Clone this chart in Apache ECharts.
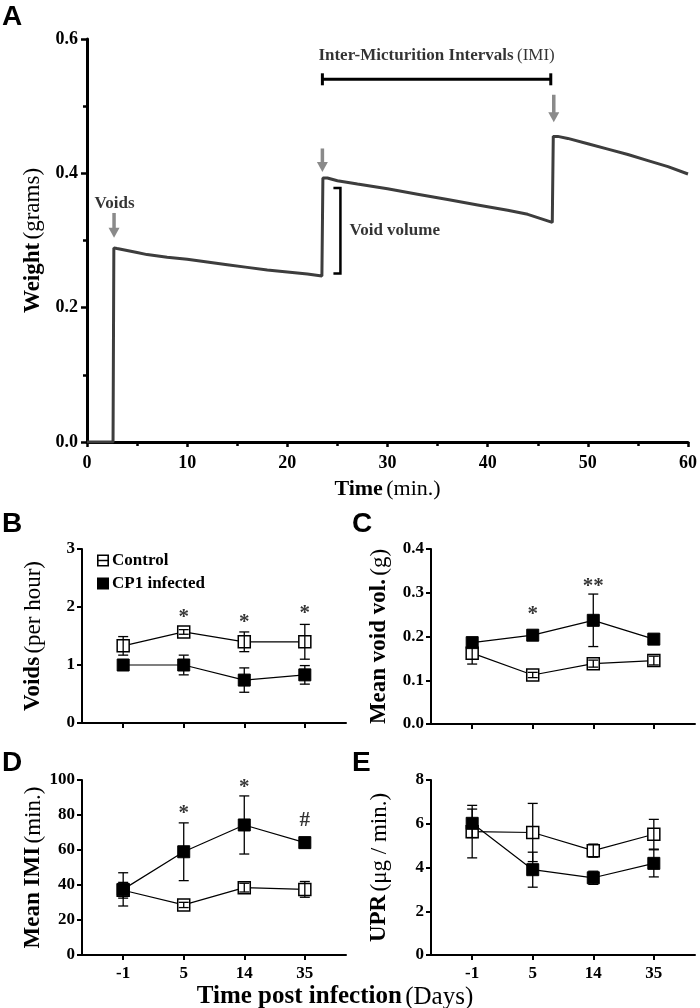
<!DOCTYPE html>
<html><head><meta charset="utf-8">
<script src="https://cdn.jsdelivr.net/npm/echarts@6/dist/echarts.min.js"></script>
<style>html,body{margin:0;padding:0;background:#fff}#c{width:700px;height:1008px}</style>
</head><body><div id="c"></div>
<script>
// ---------- Panel A data ----------
const traceTime = [0, 1.0, 2.6, 2.68, 3.0, 4, 5, 6, 8, 10, 12, 14, 16, 18, 20, 22, 23.45, 23.55, 24, 25, 27, 30, 33, 36, 39, 42, 44, 46.45, 46.55, 47, 48, 50, 52, 54, 56, 58, 60];
const traceWeight = [0, 0, 0, 0.289, 0.288, 0.285, 0.282, 0.279, 0.275, 0.272, 0.268, 0.264, 0.260, 0.256, 0.253, 0.250, 0.247, 0.393, 0.393, 0.389, 0.384, 0.377, 0.369, 0.361, 0.353, 0.345, 0.339, 0.327, 0.455, 0.455, 0.452, 0.444, 0.436, 0.428, 0.419, 0.410, 0.399];
// annotation anchors in data units: [time, weightFrom, weightTo]
const voidArrows = [[2.7, 0.341, 0.304], [23.5, 0.437, 0.402], [46.6, 0.517, 0.476]];
const imiBracket = [[23.5, 46.3, 0.540]];
const voidVolumeBracket = [[25.3, 0.378, 0.251]];

// ---------- Panels B–E data ----------
const days = ['-1', '5', '14', '35'];
const voidsControl = [1.33, 1.57, 1.40, 1.40];
const voidsControlErr = [0.16, 0.04, 0.17, 0.30];
const voidsCP1 = [1.00, 1.00, 0.74, 0.83];
const voidsCP1Err = [0.05, 0.17, 0.21, 0.16];
const voidsSig = [[1, 1.9, '*'], [2, 1.82, '*'], [3, 1.98, '*']];

const volControl = [0.162, 0.112, 0.138, 0.145];
const volControlErr = [0.025, 0.006, 0.008, 0.010];
const volCP1 = [0.186, 0.203, 0.237, 0.194];
const volCP1Err = [0.008, 0.008, 0.060, 0.006];
const volSig = [[1, 0.262, '*'], [2, 0.325, '**']];

const imiControl = [37.0, 28.6, 38.5, 37.5];
const imiControlErr = [4.5, 1.5, 2.5, 4.5];
const imiCP1 = [37.5, 59.0, 74.3, 64.2];
const imiCP1Err = [9.5, 16.5, 16.6, 3.0];
const imiSig = [[1, 83.4, '*'], [2, 98.5, '*'], [3, 77, '#']];

const uprControl = [5.64, 5.60, 4.77, 5.52];
const uprControlErr = [1.20, 1.33, 0.30, 0.68];
const uprCP1 = [6.02, 3.90, 3.53, 4.19];
const uprCP1Err = [0.65, 0.80, 0.30, 0.62];

// ---------- styling ----------
const SERIF = 'Liberation Serif';
const SANS = 'Liberation Sans';
const chart = echarts.init(document.getElementById('c'), null, {renderer: 'canvas'});

function axisNameStyle(size) {
  return {
    rich: {
      b: {fontFamily: SERIF, fontWeight: 'bold', fontSize: size, color: '#000'},
      n: {fontFamily: SERIF, fontWeight: 'normal', fontSize: size, color: '#000'}
    }
  };
}

function errRender(params, api) {
  const x = api.value(0), m = api.value(1), e = api.value(2);
  const top = api.coord([x, m + e]), bot = api.coord([x, m - e]);
  const hw = 5;
  const style = {stroke: '#000', lineWidth: 1.3, fill: null};
  return {type: 'group', children: [
    {type: 'line', shape: {x1: top[0], y1: top[1], x2: bot[0], y2: bot[1]}, style},
    {type: 'line', shape: {x1: top[0] - hw, y1: top[1], x2: top[0] + hw, y2: top[1]}, style},
    {type: 'line', shape: {x1: bot[0] - hw, y1: bot[1], x2: bot[0] + hw, y2: bot[1]}, style}
  ]};
}

const grids = [
  {left: 87, top: 39, width: 605, height: 403},
  {left: 82, top: 549, width: 264, height: 174},
  {left: 431, top: 549, width: 264, height: 175},
  {left: 82, top: 780, width: 264, height: 175},
  {left: 431, top: 780, width: 264, height: 175}
];

const xAxes = [
  {
    gridIndex: 0, type: 'value', min: 0, max: 60, interval: 10,
    axisLine: {onZero: false, lineStyle: {color: '#000', width: 3}},
    axisTick: {show: true, length: 5, lineStyle: {color: '#000', width: 2.5}},
    minorTick: {show: true, splitNumber: 2, length: 4, lineStyle: {color: '#000', width: 2.5}},
    splitLine: {show: false},
    axisLabel: {fontFamily: SERIF, fontWeight: 'bold', fontSize: 18, color: '#000', margin: 12},
    name: '{b|Time} {n|(min.)}', nameLocation: 'middle', nameGap: 36,
    nameTextStyle: axisNameStyle(22)
  }
];
const yAxes = [
  {
    gridIndex: 0, type: 'value', min: 0, max: 0.6, interval: 0.2,
    axisLine: {show: true, onZero: false, lineStyle: {color: '#000', width: 3}},
    axisTick: {show: true, length: 6, lineStyle: {color: '#000', width: 2.5}},
    minorTick: {show: true, splitNumber: 2, length: 4, lineStyle: {color: '#000', width: 2.5}},
    splitLine: {show: false},
    axisLabel: {fontFamily: SERIF, fontWeight: 'bold', fontSize: 18, color: '#000', margin: 9,
      formatter: v => v.toFixed(1)},
    name: '{b|Weight} {n|(grams)}', nameLocation: 'middle', nameGap: 42, nameRotate: 90,
    nameTextStyle: axisNameStyle(23)
  }
];

const panelY = [
  {min: 0, max: 3, interval: 1, fmt: v => String(v), name: '{b|Voids} {n|(per hour)}'},
  {min: 0, max: 0.4, interval: 0.1, fmt: v => v.toFixed(1), name: '{b|Mean void vol.} {n|(g)}'},
  {min: 0, max: 100, interval: 20, fmt: v => String(v), name: '{b|Mean IMI} {n|(min.)}'},
  {min: 0, max: 8, interval: 2, fmt: v => String(v), name: '{b|UPR} {n|(μg / min.)}'}
];
panelY.forEach((p, i) => {
  const g = i + 1;
  xAxes.push({
    gridIndex: g, type: 'value', min: -0.68, max: 3.68,
    axisLine: {onZero: false, lineStyle: {color: '#000', width: 2}},
    axisTick: {show: true, length: 5, customValues: [0, 1, 2, 3], lineStyle: {color: '#000', width: 2}},
    splitLine: {show: false},
    axisLabel: {show: g >= 3, customValues: [0, 1, 2, 3], formatter: v => days[Math.round(v)],
      fontFamily: SERIF, fontWeight: 'bold', fontSize: 17, color: '#000', margin: 10}
  });
  yAxes.push({
    gridIndex: g, type: 'value', min: p.min, max: p.max, interval: p.interval,
    axisLine: {show: true, onZero: false, lineStyle: {color: '#000', width: 2}},
    axisTick: {show: true, length: 5, lineStyle: {color: '#000', width: 2}},
    splitLine: {show: false},
    axisLabel: {fontFamily: SERIF, fontWeight: 'bold', fontSize: 17, color: '#000', margin: 7, formatter: p.fmt},
    name: p.name, nameLocation: 'middle', nameGap: (g === 2 || g === 4) ? 40 : 37, nameRotate: 90,
    nameTextStyle: axisNameStyle(23)
  });
});

const series = [];
// Panel A trace
series.push({
  type: 'line', xAxisIndex: 0, yAxisIndex: 0, showSymbol: false, silent: true,
  data: traceTime.map((t, i) => [t, traceWeight[i]]),
  lineStyle: {color: '#3d3d3d', width: 3}, z: 3
});
// arrows
series.push({
  type: 'custom', xAxisIndex: 0, yAxisIndex: 0, silent: true, z: 4,
  data: voidArrows, encode: {x: 0, y: 1},
  renderItem: (params, api) => {
    const x = api.value(0);
    const p1 = api.coord([x, api.value(1)]), p2 = api.coord([x, api.value(2)]);
    const hh = 10, hw = 5.5;
    return {type: 'group', children: [
      {type: 'line', shape: {x1: p1[0], y1: p1[1], x2: p2[0], y2: p2[1] - hh + 1}, style: {stroke: '#8a8a8a', lineWidth: 3.5}},
      {type: 'polygon', shape: {points: [[p2[0] - hw, p2[1] - hh], [p2[0] + hw, p2[1] - hh], [p2[0], p2[1]]]}, style: {fill: '#8a8a8a'}}
    ]};
  }
});
// IMI bracket
series.push({
  type: 'custom', xAxisIndex: 0, yAxisIndex: 0, silent: true, z: 4,
  data: imiBracket, encode: {x: 0, y: 2},
  renderItem: (params, api) => {
    const a = api.coord([api.value(0), api.value(2)]), b = api.coord([api.value(1), api.value(2)]);
    const st = {stroke: '#000', lineWidth: 3};
    return {type: 'group', children: [
      {type: 'line', shape: {x1: a[0], y1: a[1], x2: b[0], y2: b[1]}, style: st},
      {type: 'line', shape: {x1: a[0], y1: a[1] - 6, x2: a[0], y2: a[1] + 6}, style: st},
      {type: 'line', shape: {x1: b[0], y1: b[1] - 6, x2: b[0], y2: b[1] + 6}, style: st}
    ]};
  }
});
// void volume bracket
series.push({
  type: 'custom', xAxisIndex: 0, yAxisIndex: 0, silent: true, z: 4,
  data: voidVolumeBracket, encode: {x: 0, y: 1},
  renderItem: (params, api) => {
    const a = api.coord([api.value(0), api.value(1)]), b = api.coord([api.value(0), api.value(2)]);
    const st = {stroke: '#000', lineWidth: 2.5, fill: null};
    return {type: 'polyline', shape: {points: [[a[0] - 7, a[1]], [a[0], a[1]], [b[0], b[1]], [b[0] - 7, b[1]]]}, style: st};
  }
});
// text annotations of panel A
series.push({
  type: 'scatter', xAxisIndex: 0, yAxisIndex: 0, silent: true, symbolSize: 0, z: 5,
  data: [
    {value: [2.75, 0.355], name: 'Voids', label: {align: 'center'}},
    {value: [26.2, 0.315], name: 'Void volume', label: {align: 'left'}},
    {value: [34.9, 0.576], name: '{b|Inter-Micturition Intervals} {n|(IMI)}', label: {align: 'center'}}
  ],
  label: {show: true, position: 'inside', formatter: p => p.name.startsWith('{') ? p.name : '{b|' + p.name + '}',
    verticalAlign: 'middle',
    rich: {
      b: {fontFamily: SERIF, fontWeight: 'bold', fontSize: 17, color: '#000'},
      n: {fontFamily: SERIF, fontWeight: 'normal', fontSize: 17, color: '#000'}
    }}
});

const panels = [
  {c: voidsControl, ce: voidsControlErr, p: voidsCP1, pe: voidsCP1Err, sig: voidsSig},
  {c: volControl, ce: volControlErr, p: volCP1, pe: volCP1Err, sig: volSig},
  {c: imiControl, ce: imiControlErr, p: imiCP1, pe: imiCP1Err, sig: imiSig},
  {c: uprControl, ce: uprControlErr, p: uprCP1, pe: uprCP1Err, sig: []}
];
panels.forEach((pd, i) => {
  const g = i + 1;
  series.push({
    name: 'Control', type: 'line', xAxisIndex: g, yAxisIndex: g, z: 3,
    data: pd.c.map((v, k) => [k, v]),
    symbol: 'rect', symbolSize: 12, showAllSymbol: true,
    itemStyle: {color: '#fff', borderColor: '#000', borderWidth: 1.5},
    lineStyle: {color: '#000', width: 1.2}
  });
  series.push({
    name: 'CP1 infected', type: 'line', xAxisIndex: g, yAxisIndex: g, z: 3,
    data: pd.p.map((v, k) => [k, v]),
    symbol: 'rect', symbolSize: 12, showAllSymbol: true,
    itemStyle: {color: '#000', borderColor: '#000', borderWidth: 1},
    lineStyle: {color: '#000', width: 1.2}
  });
  series.push({
    type: 'custom', xAxisIndex: g, yAxisIndex: g, z: 5, silent: true,
    data: pd.c.map((v, k) => [k, v, pd.ce[k]]).concat(pd.p.map((v, k) => [k, v, pd.pe[k]])),
    encode: {x: 0, y: 1}, renderItem: errRender
  });
  if (pd.sig.length) {
    series.push({
      type: 'scatter', xAxisIndex: g, yAxisIndex: g, symbolSize: 0, silent: true, z: 6,
      data: pd.sig.map(s => ({value: [s[0], s[1]], name: s[2], label: {offset: [0, s[2] === '#' ? 0 : 5]}})),
      label: {show: true, position: 'inside', formatter: p => p.name,
        fontFamily: SERIF, fontWeight: 'bold', fontSize: 21, color: '#000', verticalAlign: 'middle', align: 'center'}
    });
  }
});

const controlIcon = 'path://M0 0H12V12H0Z M1.6 1.6V5.25H10.4V1.6Z M1.6 6.75V10.4H10.4V6.75Z';

chart.setOption({
  animation: false,
  backgroundColor: '#fff',
  grid: grids,
  xAxis: xAxes,
  yAxis: yAxes,
  legend: {
    orient: 'vertical', left: 92, top: 547, itemGap: 6, itemWidth: 12, itemHeight: 12,
    selectedMode: false,
    textStyle: {fontFamily: SERIF, fontWeight: 'bold', fontSize: 17, color: '#000', padding: [0, 0, 0, -2]},
    data: [
      {name: 'Control', icon: controlIcon, itemStyle: {color: '#000', borderWidth: 0}},
      {name: 'CP1 infected', icon: 'rect', itemStyle: {color: '#000', borderWidth: 0}}
    ]
  },
  graphic: [
    {type: 'text', left: 2, top: 3, style: {text: 'A', font: 'bold 28px ' + SANS, fill: '#000'}},
    {type: 'text', left: 2, top: 510, style: {text: 'B', font: 'bold 28px ' + SANS, fill: '#000'}},
    {type: 'text', left: 352, top: 510, style: {text: 'C', font: 'bold 28px ' + SANS, fill: '#000'}},
    {type: 'text', left: 2, top: 749, style: {text: 'D', font: 'bold 28px ' + SANS, fill: '#000'}},
    {type: 'text', left: 352, top: 749, style: {text: 'E', font: 'bold 28px ' + SANS, fill: '#000'}},
    {type: 'text', x: 335, y: 997, style: {
      text: '{b|Time post infection} {n|(Days)}', align: 'center', verticalAlign: 'middle',
      rich: {
        b: {fontFamily: SERIF, fontWeight: 'bold', fontSize: 25, fill: '#000'},
        n: {fontFamily: SERIF, fontWeight: 'normal', fontSize: 25, fill: '#000'}
      }}}
  ],
  series: series
});
</script>
</body></html>
